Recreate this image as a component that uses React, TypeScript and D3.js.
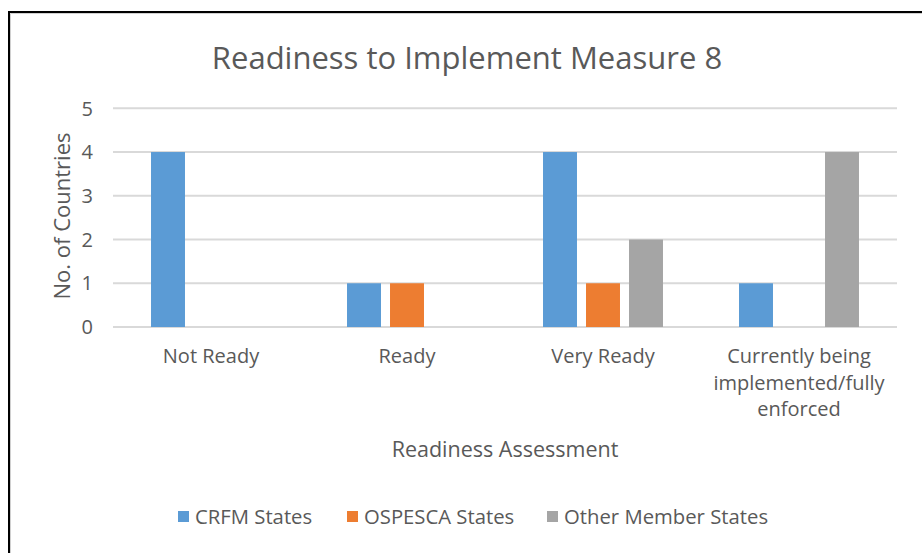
import { useEffect, useRef } from "react";
import * as d3 from "d3";

const categories = [
  ["Not Ready"],
  ["Ready"],
  ["Very Ready"],
  ["Currently being", "implemented/fully", "enforced"],
];
const seriesNames = ["CRFM States", "OSPESCA States", "Other Member States"];
const crfm = [4, 1, 4, 1];
const ospesca = [0, 1, 1, 0];
const other = [0, 0, 2, 4];
const yTicks = [0, 1, 2, 3, 4, 5];
const colors = ["#5B9BD5", "#ED7D31", "#A5A5A5"];

const FONT = "'Open Sans', sans-serif";
const TEXT = "#595959";

const Chart = () => {
  const svgRef = useRef<SVGSVGElement>(null);

  useEffect(() => {
    const svg = d3.select(svgRef.current);
    svg.selectAll("*").remove();

    const values = [crfm, ospesca, other];
    const plot = { left: 113, right: 897, top: 108.3, bottom: 327 };

    // frame (black line with a soft grey inner shadow)
    svg
      .append("path")
      .attr("d", "M9,560 V12 H930")
      .attr("fill", "none")
      .attr("stroke", "#000")
      .attr("stroke-width", 2);
    svg
      .append("path")
      .attr("d", "M10.5,560 V13.5 H930")
      .attr("fill", "none")
      .attr("stroke", "#d0d0d0")
      .attr("stroke-width", 1);

    const x0 = d3
      .scaleBand()
      .domain(categories.map((_, i) => String(i)))
      .range([plot.left, plot.right]);

    const x1 = d3
      .scaleBand()
      .domain(seriesNames)
      .range([-64.5, 64.5])
      .paddingInner(0.21)
      .paddingOuter(0.105);

    const y = d3.scaleLinear().domain([0, 5]).range([plot.bottom, plot.top]);

    // gridlines
    svg
      .append("g")
      .selectAll("line")
      .data(yTicks)
      .enter()
      .append("line")
      .attr("x1", plot.left)
      .attr("x2", plot.right)
      .attr("y1", (d) => y(d))
      .attr("y2", (d) => y(d))
      .attr("stroke", "#D9D9D9")
      .attr("stroke-width", 2);

    // y tick labels
    svg
      .append("g")
      .selectAll("text")
      .data(yTicks)
      .enter()
      .append("text")
      .attr("x", 93)
      .attr("y", (d) => y(d))
      .attr("dy", "0.36em")
      .attr("text-anchor", "end")
      .attr("font-family", FONT)
      .attr("font-size", 20)
      .attr("fill", TEXT)
      .text((d) => d);

    // bars (zero values are simply not drawn)
    seriesNames.forEach((s, si) => {
      const rows = values[si]
        .map((v, i) => ({ v, i }))
        .filter((d) => d.v > 0);
      svg
        .append("g")
        .selectAll("rect")
        .data(rows)
        .enter()
        .append("rect")
        .attr("x", (d) => x0(String(d.i))! + x0.bandwidth() / 2 + x1(s)!)
        .attr("y", (d) => y(d.v))
        .attr("width", x1.bandwidth())
        .attr("height", (d) => y(0) - y(d.v))
        .attr("fill", colors[si]);
    });

    // category labels
    const catG = svg.append("g");
    categories.forEach((lines, i) => {
      const t = catG
        .append("text")
        .attr("text-anchor", "middle")
        .attr("font-family", FONT)
        .attr("font-size", 20)
        .attr("fill", TEXT);
      lines.forEach((ln, li) => {
        t.append("tspan")
          .attr("x", x0(String(i))! + x0.bandwidth() / 2)
          .attr("y", 363 + li * 26.5)
          .text(ln);
      });
    });

    // title
    svg
      .append("text")
      .attr("x", 467)
      .attr("y", 69)
      .attr("text-anchor", "middle")
      .attr("font-family", FONT)
      .attr("font-size", 31)
      .attr("fill", TEXT)
      .text("Readiness to Implement Measure 8");

    // axis titles
    svg
      .append("text")
      .attr("transform", "translate(70,216) rotate(-90)")
      .attr("text-anchor", "middle")
      .attr("font-family", FONT)
      .attr("font-size", 22)
      .attr("fill", TEXT)
      .text("No. of Countries");

    svg
      .append("text")
      .attr("x", 505)
      .attr("y", 457)
      .attr("text-anchor", "middle")
      .attr("font-family", FONT)
      .attr("font-size", 21.5)
      .attr("fill", TEXT)
      .text("Readiness Assessment");

    // legend
    const legendX = [178, 347, 547];
    const leg = svg.append("g");
    seriesNames.forEach((s, i) => {
      leg
        .append("rect")
        .attr("x", legendX[i])
        .attr("y", 511)
        .attr("width", 11)
        .attr("height", 11)
        .attr("fill", colors[i]);
      leg
        .append("text")
        .attr("x", legendX[i] + 17)
        .attr("y", 524)
        .attr("font-family", FONT)
        .attr("font-size", 20.3)
        .attr("fill", TEXT)
        .text(s);
    });
  }, []);

  return <svg ref={svgRef} width={922} height={553}></svg>;
};

export default function App() {
  return (
    <div style={{ position: "absolute", left: 0, top: 0, background: "#fff" }}>
      <Chart />
    </div>
  );
}
